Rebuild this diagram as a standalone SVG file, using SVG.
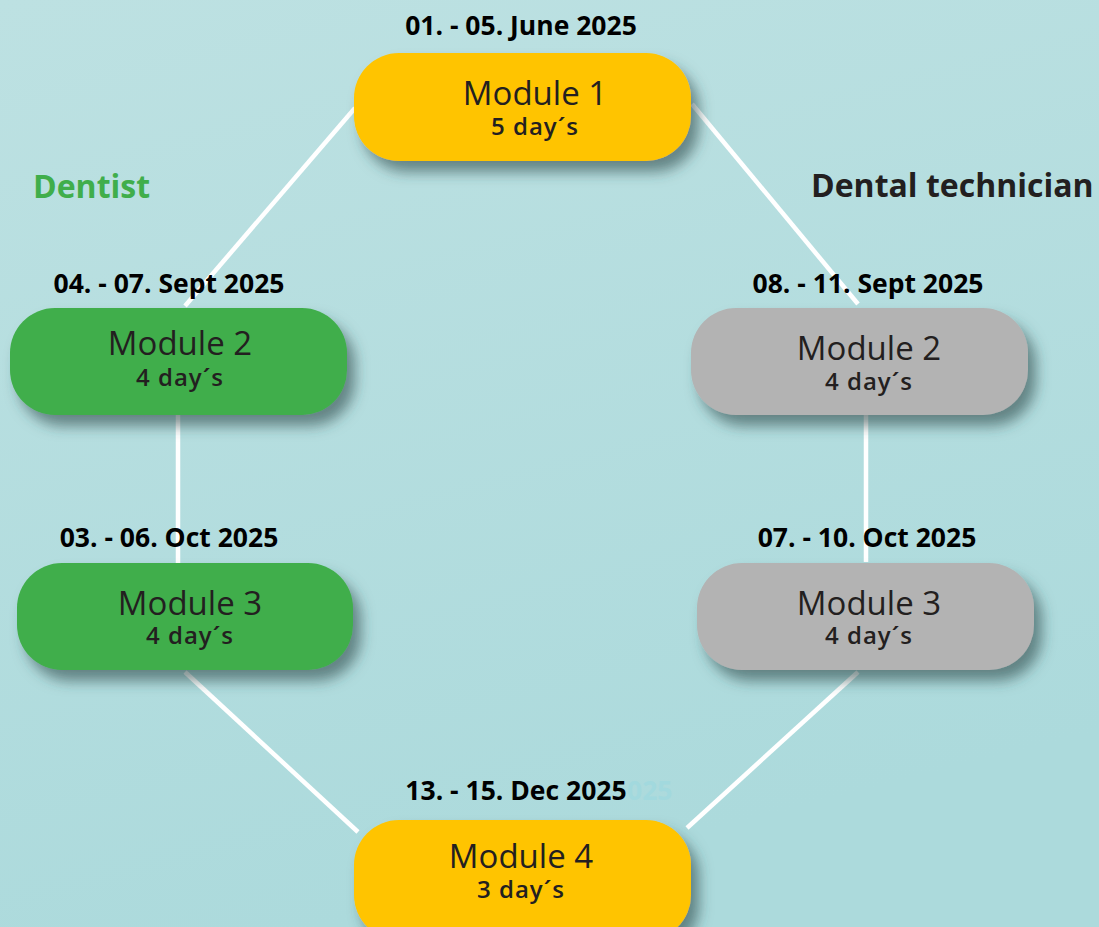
<svg xmlns="http://www.w3.org/2000/svg" width="1099" height="927" viewBox="0 0 1099 927">
<defs>
<linearGradient id="bg" x1="0" y1="0" x2="0.3" y2="1">
<stop offset="0" stop-color="#bde1e2"/>
<stop offset="1" stop-color="#acdadc"/>
</linearGradient>
<filter id="sh" x="-20%" y="-30%" width="150%" height="180%">
<feDropShadow dx="8" dy="11" stdDeviation="7" flood-color="#2f4648" flood-opacity="0.6"/>
</filter>
<style>
.box{filter:url(#sh)}
.y{fill:#ffc400}
.g{fill:#40ae4b}
.gr{fill:#b3b3b3}
.t{font-family:"Open Sans","Noto Sans",sans-serif;fill:#231f20;text-anchor:middle}
.m{font-size:33px;font-weight:500}
.d{font-size:24px;font-weight:600;letter-spacing:1px}
.dt{font-family:"Open Sans","Noto Sans",sans-serif;font-size:26.5px;font-weight:700;fill:#000;text-anchor:middle}
.h{font-family:"Open Sans","Noto Sans",sans-serif;font-size:32px;font-weight:700}
.c{stroke:#ffffff;stroke-width:4.5;fill:none}
</style>
</defs>
<rect width="1099" height="927" fill="url(#bg)"/>
<g id="connectors">
<line class="c" x1="355" y1="108" x2="185" y2="306"/>
<line class="c" x1="692" y1="104" x2="858" y2="304"/>
<line class="c" x1="178" y1="414" x2="178" y2="564"/>
<line class="c" x1="866" y1="414" x2="866" y2="562"/>
<line class="c" x1="185" y1="672" x2="358" y2="832"/>
<line class="c" x1="858" y1="672" x2="687" y2="828"/>
</g>
<text class="h" x="33" y="198" fill="#40ae4b">Dentist</text>
<text class="h" x="811" y="197" fill="#231f20">Dental technician</text>
<g id="m1">
<rect class="box y" x="354" y="53" width="337" height="108" rx="45"/>
<text class="dt" x="521" y="35">01. - 05. June 2025</text>
<text class="t m" x="535" y="105">Module 1</text>
<text class="t d" x="535" y="135">5 day´s</text>
</g>
<g id="m2d">
<rect class="box g" x="10" y="308" width="337" height="107" rx="45"/>
<text class="dt" x="169" y="293">04. - 07. Sept 2025</text>
<text class="t m" x="180" y="355">Module 2</text>
<text class="t d" x="180" y="386">4 day´s</text>
</g>
<g id="m2t">
<rect class="box gr" x="691" y="308" width="337" height="107" rx="45"/>
<text class="dt" x="868" y="293">08. - 11. Sept 2025</text>
<text class="t m" x="869" y="360">Module 2</text>
<text class="t d" x="869" y="390">4 day´s</text>
</g>
<g id="m3d">
<rect class="box g" x="17" y="563" width="336" height="107" rx="45"/>
<text class="dt" x="169" y="547">03. - 06. Oct 2025</text>
<text class="t m" x="190" y="615">Module 3</text>
<text class="t d" x="190" y="644">4 day´s</text>
</g>
<g id="m3t">
<rect class="box gr" x="697" y="563" width="337" height="107" rx="45"/>
<text class="dt" x="867" y="547">07. - 10. Oct 2025</text>
<text class="t m" x="869" y="615">Module 3</text>
<text class="t d" x="869" y="644">4 day´s</text>
</g>
<g id="m4">
<rect class="box y" x="354" y="820" width="337" height="120" rx="45"/>
<text class="dt" x="627" y="800" style="fill:#a2d9de;text-anchor:start">025</text>
<text class="dt" x="516" y="800">13. - 15. Dec 2025</text>
<text class="t m" x="521" y="868">Module 4</text>
<text class="t d" x="521" y="898">3 day´s</text>
</g>
</svg>
